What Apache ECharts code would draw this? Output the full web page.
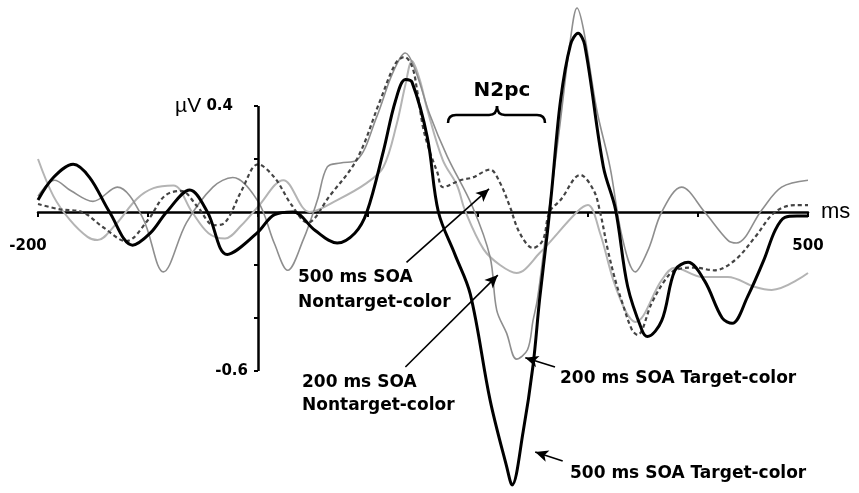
<!DOCTYPE html>
<html>
<head>
<meta charset="utf-8">
<script src="https://cdn.jsdelivr.net/npm/echarts@6.0.0/dist/echarts.min.js"></script>
<style>
html,body{margin:0;background:#fff}
#erp{width:859px;height:493px}
</style>
</head>
<body>
<div id="erp"></div>
<script>
// ms after onset / amplitude in µV
// 500 ms SOA Target-color (black, thick)
var tA = [-200,-186,-168,-153,-135,-114,-98,-83,-62,-46,-28,-1,15,32,52,72,88,99,114,125,134,140,154,164,179,193,211,226,231,241,250,256,263,267,275,284,291,297,314,325,336,349,354,367,379,391,406,422,431,445,460,470,479,490,500];
var vA = [0.045,0.13,0.18,0.13,0,-0.125,-0.08,0,0.083,0,-0.16,-0.08,-0.01,0,-0.07,-0.117,-0.08,0,0.23,0.42,0.5,0.49,0.28,0,-0.16,-0.31,-0.71,-0.96,-1.03,-0.83,-0.58,-0.33,-0.08,0.08,0.42,0.63,0.675,0.63,0.17,0.01,-0.28,-0.445,-0.47,-0.41,-0.22,-0.19,-0.26,-0.40,-0.42,-0.32,-0.18,-0.07,-0.02,-0.015,-0.015];
// 200 ms SOA Target-color (thin grey)
var tB = [-200,-185,-170,-150,-128,-105,-86,-65,-41,-23,0,15,27,41,54,63,75,90,108,120,129,134,143,156,172,195,211,217,226,235,245,250,254,261,267,275,284,290,296,308,320,331,343,355,367,385,406,427,435,458,476,500];
var vB = [0.06,0.12,0.08,0.04,0.094,-0.02,-0.226,-0.04,0.094,0.13,0.04,-0.12,-0.22,-0.106,0.045,0.17,0.185,0.196,0.36,0.5,0.58,0.6,0.535,0.37,0.21,0.02,-0.17,-0.37,-0.457,-0.555,-0.52,-0.41,-0.33,-0.106,0.083,0.347,0.65,0.77,0.687,0.385,0.17,-0.094,-0.226,-0.14,0,0.094,0,-0.106,-0.117,0.008,0.094,0.12];
// 500 ms SOA Nontarget-color (dashed)
var tC = [-200,-180,-160,-140,-120,-100,-85,-70,-55,-40,-30,-15,0,15,30,45,65,90,111,125,133,140,145,150,156,163,168,184,195,211,220,229,238,250,259,265,275,293,305,311,318,325,331,340,345,358,370,379,397,415,434,452,470,488,500];
var vC = [0.03,0.01,0,-0.06,-0.11,-0.03,0.06,0.08,0.02,-0.05,-0.04,0.08,0.18,0.13,0.03,-0.04,0.06,0.2,0.42,0.56,0.585,0.55,0.45,0.32,0.23,0.15,0.094,0.12,0.13,0.16,0.11,0.02,-0.08,-0.136,-0.106,0,0.045,0.14,0.083,0,-0.143,-0.26,-0.34,-0.445,-0.464,-0.343,-0.257,-0.22,-0.21,-0.22,-0.18,-0.094,0,0.026,0.026];
// 200 ms SOA Nontarget-color (light grey)
var tD = [-200,-186,-171,-155,-146,-130,-110,-95,-77,-60,-45,-30,-15,0,23,47,72,99,114,126,134,140,147,154,168,181,188,205,220,235,256,290,300,311,323,335,343,367,379,404,427,452,467,500];
var vD = [0.2,0.06,-0.03,-0.094,-0.106,-0.05,0.05,0.09,0.1,0,-0.08,-0.1,-0.05,0.02,0.12,0,0.045,0.11,0.17,0.33,0.48,0.57,0.5,0.385,0.196,0.1,0.008,-0.14,-0.2,-0.23,-0.155,0,0.026,-0.08,-0.257,-0.38,-0.415,-0.257,-0.21,-0.245,-0.245,-0.283,-0.294,-0.23];

var yTicks = [-0.6,-0.4,-0.2,0,0.2,0.4];
var yLabels = [-0.6,0.4];
var xLabels = [-200,500];

// label arrows: tail -> tip, in [ms, µV]
var arrowTail = [[135,-0.19],[134,-0.585],[270,-0.585],[277,-0.94]];
var arrowTip  = [[210,0.087],[218,-0.238],[243,-0.55],[252,-0.906]];

function pairs(t, v){
    var out = [];
    for (var i = 0; i < t.length; i++) out.push([t[i], v[i]]);
    return out;
}

var bold = 'bold 17px "DejaVu Sans"';
var myChart = echarts.init(document.getElementById('erp'));

// plot box: 770px for 700 ms, 265px per µV, zero line at y=212
var gLeft = 38, gTop = 0, gWidth = 770, gHeight = 477;
var xZero = 220, yZero = 212;   // offsets of the 0 ms / 0 µV lines inside the box

var marks = [
    // short y axis, 0.4 .. -0.6 only
    [{coord:[0,0.4], symbol:'none'}, {coord:[0,-0.6], symbol:'none', lineStyle:{width:2.5}}]
];
for (var k = 0; k < arrowTail.length; k++) {
    marks.push([{coord:arrowTail[k], symbol:'none'}, {coord:arrowTip[k], symbol:'arrow', symbolSize:[9,13]}]);
}

// curly brace over the N2pc window
var braceStyle = {fill:'none', stroke:'#000', lineWidth:2.5};
var brace = [
    {type:'bezierCurve', shape:{x1:448, y1:123, cpx1:448, cpy1:115, x2:456, y2:115}, style:braceStyle},
    {type:'line', shape:{x1:456, y1:115, x2:489, y2:115}, style:braceStyle},
    {type:'bezierCurve', shape:{x1:489, y1:115, cpx1:497, cpy1:115, x2:497, y2:106}, style:braceStyle},
    {type:'bezierCurve', shape:{x1:497, y1:106, cpx1:497, cpy1:115, x2:505, y2:115}, style:braceStyle},
    {type:'line', shape:{x1:505, y1:115, x2:537, y2:115}, style:braceStyle},
    {type:'bezierCurve', shape:{x1:537, y1:115, cpx1:545, cpy1:115, x2:545, y2:123}, style:braceStyle}
];

var option = {
    backgroundColor:'#fff',
    animation:false,
    grid:{left:gLeft, top:gTop, width:gWidth, height:gHeight, containLabel:false, outerBoundsMode:'none'},
    xAxis:{
        type:'value', min:-200, max:500, interval:100,
        position:'bottom', offset:-(gHeight - yZero),
        name:'ms', nameLocation:'end', nameGap:13,
        nameTextStyle:{fontFamily:'Liberation Sans', fontSize:22, color:'#000'},
        axisLine:{onZero:false, lineStyle:{color:'#000', width:2.5}},
        axisTick:{length:5, lineStyle:{color:'#000', width:2}},
        axisLabel:{
            margin:27, color:'#000', fontFamily:'DejaVu Sans', fontWeight:'bold', fontSize:15,
            formatter:function(v){
                if (xLabels.indexOf(v) < 0) return '';
                return v < 0 ? '{l|' + v + '}' : String(v);
            },
            rich:{l:{fontFamily:'DejaVu Sans', fontWeight:'bold', fontSize:15, color:'#000', padding:[0,20,0,0]}}
        },
        splitLine:{show:false}
    },
    yAxis:{
        type:'value', min:-1.0, max:0.8,
        position:'left', offset:-xZero,
        axisLine:{show:false, onZero:false},
        axisTick:{customValues:yTicks, length:4, lineStyle:{color:'#000', width:2}},
        axisLabel:{
            customValues:yLabels, margin:10, color:'#000',
            fontFamily:'DejaVu Sans', fontWeight:'bold', fontSize:15,
            formatter:function(v){
                return v > 0 ? '{u|µV} {n|' + v.toFixed(1) + '}' : v.toFixed(1);
            },
            rich:{
                u:{fontFamily:'Liberation Sans', fontWeight:'normal', fontSize:21, color:'#000'},
                n:{fontFamily:'DejaVu Sans', fontWeight:'bold', fontSize:15, color:'#000', padding:[0,15,0,0]}
            }
        },
        splitLine:{show:false}
    },
    series:[
        {name:'200 ms SOA Nontarget-color', type:'line', data:pairs(tD, vD), smooth:0.35, symbol:'none', clip:false,
         lineStyle:{color:'#b4b4b4', width:2}},
        {name:'200 ms SOA Target-color', type:'line', data:pairs(tB, vB), smooth:0.35, symbol:'none', clip:false,
         lineStyle:{color:'#8e8e8e', width:1.6}},
        {name:'500 ms SOA Nontarget-color', type:'line', data:pairs(tC, vC), smooth:0.35, symbol:'none', clip:false,
         lineStyle:{color:'#444', width:2.2, type:[4,3]}},
        {name:'500 ms SOA Target-color', type:'line', data:pairs(tA, vA), smooth:0.35, symbol:'none', clip:false,
         lineStyle:{color:'#000', width:3},
         markLine:{silent:true, animation:false, label:{show:false},
                   lineStyle:{color:'#000', width:1.6, type:'solid'},
                   data:marks}}
    ],
    graphic:[
        {type:'text', x:298, y:290, style:{text:'500 ms SOA\nNontarget-color', font:bold, fill:'#000', lineHeight:25, verticalAlign:'middle'}},
        {type:'text', x:302, y:394, style:{text:'200 ms SOA\nNontarget-color', font:bold, fill:'#000', lineHeight:23, verticalAlign:'middle'}},
        {type:'text', x:560, y:379, style:{text:'200 ms SOA Target-color', font:bold, fill:'#000', verticalAlign:'middle'}},
        {type:'text', x:570, y:474, style:{text:'500 ms SOA Target-color', font:bold, fill:'#000', verticalAlign:'middle'}},
        {type:'text', x:502, y:91, style:{text:'N2pc', font:'bold 20px "DejaVu Sans"', fill:'#000', align:'center', verticalAlign:'middle'}}
    ].concat(brace)
};
myChart.setOption(option);
window.addEventListener('resize', myChart.resize);
</script>
</body>
</html>
